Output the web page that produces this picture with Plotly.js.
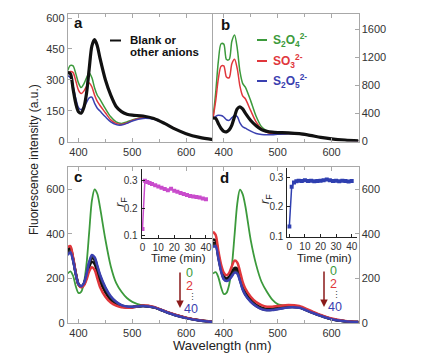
<!DOCTYPE html>
<html><head><meta charset="utf-8">
<script src="https://cdn.plot.ly/plotly-3.0.1.min.js"></script>
<style>body{margin:0;padding:0;background:#fff}#plot{width:445px;height:355px}</style>
</head><body><div id="plot"></div>
<script>
// wavelength grid (nm)
const wl = [380,385,390,395,400,405,410,415,420,425,430,435,440,450,460,470,480,490,500,520,540,560,580,600,625,650];

// panel a
const aBlank  = [335,330,255,185,145,138,165,235,355,465,495,465,405,300,225,170,145,133,128,124,112,88,60,38,20,9];
const aS2O4   = [345,370,368,330,285,262,280,310,333,310,260,225,205,160,120,95,88,95,105,118,110,88,60,38,20,9];
const aSO3    = [330,340,335,295,250,233,245,268,285,265,225,195,175,140,105,88,83,90,102,115,110,88,60,38,20,9];
const aS2O5   = [320,310,270,210,165,155,168,190,212,215,185,162,148,120,95,82,80,88,100,112,108,88,60,38,20,9];
// panel b
const bBlank  = [335,330,255,185,145,138,165,235,355,465,495,465,405,300,225,170,145,133,128,124,112,88,60,38,20,9];
const bS2O4   = [330,700,1150,1395,1390,1170,1170,1430,1520,1330,1000,830,775,580,360,210,150,120,110,115,108,86,58,36,18,8];
const bSO3    = [330,580,900,1075,1080,920,910,1110,1175,1040,790,650,610,440,280,180,130,110,105,113,108,86,58,36,18,8];
const bS2O5   = [330,360,375,370,350,310,302,340,370,355,265,210,190,148,115,100,95,98,103,112,108,86,58,36,18,8];
// panel c (time series of spectra, min)
const c0  = [222,232,212,165,135,140,178,265,410,550,600,580,520,375,255,180,140,112,95,78,70,52,36,24,12,5];
const c2  = [340,345,295,225,172,160,168,195,232,250,238,200,162,118,92,78,70,68,70,78,72,54,37,24,12,5];
const c10 = [330,338,290,223,173,162,172,205,252,275,265,228,188,138,104,85,74,70,71,77,71,53,36,23,12,5];
const c20 = [320,330,286,222,174,163,175,212,264,290,282,244,204,150,112,90,77,72,72,76,70,52,36,23,11,5];
const c30 = [312,324,283,221,175,164,177,216,270,298,290,252,212,156,116,93,79,73,72,76,70,52,35,22,11,4];
const c40 = [305,318,280,220,175,165,178,218,275,305,295,258,218,160,120,95,80,74,73,76,70,52,35,22,11,4];
// panel d
const d0  = [222,228,205,160,130,135,172,255,395,535,598,578,525,372,262,185,140,105,85,76,70,50,32,18,8,4];
const d2  = [410,395,322,262,226,214,225,255,280,272,232,185,155,118,94,80,73,73,76,81,76,56,36,20,9,4];
const d10 = [375,370,305,245,210,200,208,228,247,244,208,164,138,104,82,69,63,64,68,75,72,53,34,18,8,4];
const d20 = [360,358,298,239,204,195,201,220,238,234,200,158,132,100,79,66,60,61,65,73,70,51,33,17,8,4];
const d30 = [350,350,293,235,199,191,197,214,231,227,194,153,128,97,77,64,58,59,63,71,69,50,32,17,8,4];
const d40 = [340,345,290,232,196,188,194,210,226,222,190,150,125,95,75,62,57,58,62,70,68,50,32,17,8,4];

// insets: r_F vs time
const timeMin = [0,1.5,3,4.5,6,8,10,12,14,16,18,20,22,24,26,28,30,32,34,36,38,40];
const rFc = [0.125,0.300,0.296,0.292,0.288,0.284,0.279,0.275,0.270,0.266,0.271,0.264,0.260,0.256,0.252,0.248,0.245,0.243,0.241,0.239,0.236,0.233];
const rFd = [0.133,0.268,0.283,0.287,0.289,0.288,0.290,0.288,0.289,0.287,0.288,0.289,0.290,0.293,0.290,0.288,0.289,0.287,0.289,0.288,0.286,0.288];

const GREEN='#3c9a3c', RED='#e0373c', BLUE='#3a40b0', BLACK='#111111', MAG='#c94ccc', IBLUE='#2f3fb0';
const W=445,H=355;
const px=x=>x/W, py=y=>1-y/H;

function ln(x,y,xa,ya,color,width){return {x:x,y:y,xaxis:xa,yaxis:ya,type:'scatter',mode:'lines',line:{color:color,width:width,shape:'spline',smoothing:0.8},hoverinfo:'skip'};}

const traces=[
 ln(wl,aS2O4,'x','y',GREEN,1.5), ln(wl,aSO3,'x','y',RED,1.5), ln(wl,aS2O5,'x','y',BLUE,1.5), ln(wl,aBlank,'x','y',BLACK,3.2),
 ln(wl,bS2O4,'x2','y2',GREEN,1.5), ln(wl,bSO3,'x2','y2',RED,1.5), ln(wl,bS2O5,'x2','y2',BLUE,1.5), ln(wl,bBlank,'x2','y2',BLACK,3.2),
 ln(wl,c0,'x3','y3',GREEN,1.8), ln(wl,c10,'x3','y3',BLACK,2.5), ln(wl,c20,'x3','y3',BLACK,2.5), ln(wl,c30,'x3','y3','#333',2.5), ln(wl,c2,'x3','y3',RED,2.5), ln(wl,c40,'x3','y3',BLUE,2.5),
 ln(wl,d0,'x4','y4',GREEN,1.8), ln(wl,d10,'x4','y4',BLACK,2.5), ln(wl,d20,'x4','y4',BLACK,2.5), ln(wl,d30,'x4','y4','#333',2.5), ln(wl,d2,'x4','y4',RED,2.5), ln(wl,d40,'x4','y4',BLUE,2.5),
 {x:timeMin,y:rFc,xaxis:'x5',yaxis:'y5',type:'scatter',mode:'lines+markers',line:{color:MAG,width:1.5},marker:{symbol:'square',size:4,color:MAG},hoverinfo:'skip'},
 {x:timeMin,y:rFd,xaxis:'x6',yaxis:'y6',type:'scatter',mode:'lines+markers',line:{color:IBLUE,width:1.5},marker:{symbol:'square',size:4,color:IBLUE},hoverinfo:'skip'}
];

const tickF={family:'Liberation Sans, Arial, sans-serif',size:11,color:'#333'};
const AX='#a8a8a8';
function xax(dom,anchor){return {domain:dom,anchor:anchor,range:[380,650],tick0:0,dtick:100,ticks:'inside',ticklen:4,tickcolor:AX,showline:true,linecolor:AX,linewidth:1,mirror:'ticks',showgrid:false,zeroline:false,tickfont:tickF,minor:{tick0:0,dtick:50,ticks:'inside',ticklen:3,tickcolor:AX,showgrid:false}};}
function yax(dom,anchor,range,dtick,side){return {domain:dom,anchor:anchor,range:range,tick0:0,dtick:dtick,side:side,ticks:'inside',ticklen:4,tickcolor:AX,showline:true,linecolor:AX,linewidth:1,mirror:false,showgrid:false,zeroline:false,tickfont:tickF};}
const iF={family:'Liberation Sans, Arial, sans-serif',size:10,color:'#333'};
function ixax(dom,anchor,range){return {domain:dom,anchor:anchor,range:range,tickvals:[0,10,20,30,40],ticks:'inside',ticklen:3,tickcolor:'#222',showline:true,linecolor:'#222',linewidth:1,showgrid:false,zeroline:false,tickfont:iF,ticklabelstandoff:0};}
function iyax(dom,anchor,range){return {domain:dom,anchor:anchor,range:range,tickvals:[0.1,0.2,0.3],ticks:'inside',ticklen:3,tickcolor:'#222',showline:true,linecolor:'#222',linewidth:1,showgrid:false,zeroline:false,tickfont:iF,ticklabelstandoff:1};}

const colA=[px(67.7),px(213)], colB=[px(213),px(358.5)];
const rowT=[py(141.5),py(14)], rowB=[py(323),py(167)];

function ann(x,y,text,size,color,opts){return Object.assign({xref:'paper',yref:'paper',x:px(x),y:py(y),text:text,showarrow:false,xanchor:'center',yanchor:'middle',font:{family:'Liberation Sans, Arial, sans-serif',size:size,color:color}},opts||{});}

const annotations=[
 ann(78,22.5,'<b>a</b>',15,'#111'), ann(225,24,'<b>b</b>',15,'#111'),
 ann(78,176.5,'<b>c</b>',15,'#111'), ann(224,177,'<b>d</b>',15,'#111'),
 ann(128,40.5,'<b>Blank or</b>',11.5,'#111',{xanchor:'left'}),
 ann(128,52,'<b>other anions</b>',11.5,'#111',{xanchor:'left'}),
 ann(271,40,'<b>S<sub>2</sub>O<sub>4</sub><sup>2-</sup></b>',12,GREEN,{xanchor:'left'}),
 ann(271,61,'<b>SO<sub>3</sub><sup>2-</sup></b>',12,RED,{xanchor:'left'}),
 ann(271,81,'<b>S<sub>2</sub>O<sub>5</sub><sup>2-</sup></b>',12,BLUE,{xanchor:'left'}),
 ann(34,160,'Fluorescence intensity (a.u.)',12,'#222',{textangle:-90}),
 ann(222,345,'Wavelength (nm)',13,'#222'),
 ann(178,258,'Time (min)',11.5,'#222'),
 ann(324,258,'Time (min)',11.5,'#222'),
 ann(120,202,'<i>r</i><sub>F</sub>',13,'#222',{textangle:-90}),
 ann(265,199,'<i>r</i><sub>F</sub>',13,'#222',{textangle:-90}),
 ann(184,273,'0',12.5,GREEN,{xanchor:'left'}), ann(184,286,'2',12.5,RED,{xanchor:'left'}),
 ann(186,296.5,'⋮',9,'#444',{xanchor:'left'}), ann(182,308.5,'40',12.5,BLUE,{xanchor:'left'}),
 ann(328,271,'0',12.5,GREEN,{xanchor:'left'}), ann(328,283.5,'2',12.5,RED,{xanchor:'left'}),
 ann(330,295,'⋮',9,'#444',{xanchor:'left'}), ann(326,306.5,'40',12.5,BLUE,{xanchor:'left'}),
 {xref:'paper',yref:'paper',x:px(180),y:py(308),ax:0,ay:-37,text:'',showarrow:true,arrowhead:2,arrowsize:1,arrowwidth:1.5,arrowcolor:'#8b1a1a',standoff:0,startstandoff:0},
 {xref:'paper',yref:'paper',x:px(324),y:py(307),ax:0,ay:-37,text:'',showarrow:true,arrowhead:2,arrowsize:1,arrowwidth:1.5,arrowcolor:'#8b1a1a',standoff:0,startstandoff:0}
];

function vline(x,y0,y1){return {type:'line',xref:'paper',yref:'paper',x0:px(x),x1:px(x),y0:py(y0),y1:py(y1),line:{color:AX,width:1},layer:'above'};}
const shapes=[
 {type:'line',xref:'paper',yref:'paper',x0:px(110),x1:px(121),y0:py(40.5),y1:py(40.5),line:{color:'#111',width:2}},
 {type:'line',xref:'paper',yref:'paper',x0:px(257),x1:px(267),y0:py(40),y1:py(40),line:{color:GREEN,width:2}},
 {type:'line',xref:'paper',yref:'paper',x0:px(257),x1:px(267),y0:py(61),y1:py(61),line:{color:RED,width:2}},
 {type:'line',xref:'paper',yref:'paper',x0:px(257),x1:px(267),y0:py(81),y1:py(81),line:{color:BLUE,width:2}},
 vline(212.5,14,141.5), vline(212.5,167,323)
];

const layout={
 width:W,height:H,margin:{l:0,r:0,t:0,b:0},paper_bgcolor:'#fff',plot_bgcolor:'rgba(0,0,0,0)',showlegend:false,
 font:{family:'Liberation Sans, Arial, sans-serif',size:11,color:'#333'},
 xaxis:xax(colA,'y'), yaxis:yax(rowT,'x',[0,620],150,'left'),
 xaxis2:xax(colB,'y2'), yaxis2:yax(rowT,'x2',[0,1820],400,'right'),
 xaxis3:xax(colA,'y3'), yaxis3:yax(rowB,'x3',[0,700],200,'left'),
 xaxis4:xax(colB,'y4'), yaxis4:yax(rowB,'x4',[0,700],200,'right'),
 xaxis5:ixax([px(141.7),px(212)],'y5',[-0.5,43.8]), yaxis5:iyax([py(237.7),py(169)],'x5',[0.093,0.343]),
 xaxis6:ixax([px(287.3),px(357)],'y6',[-1.3,43.4]), yaxis6:iyax([py(237),py(168.3)],'x6',[0.097,0.331]),
 annotations:annotations, shapes:shapes
};
Plotly.newPlot('plot',traces,layout,{staticPlot:true,displayModeBar:false});
</script></body></html>
